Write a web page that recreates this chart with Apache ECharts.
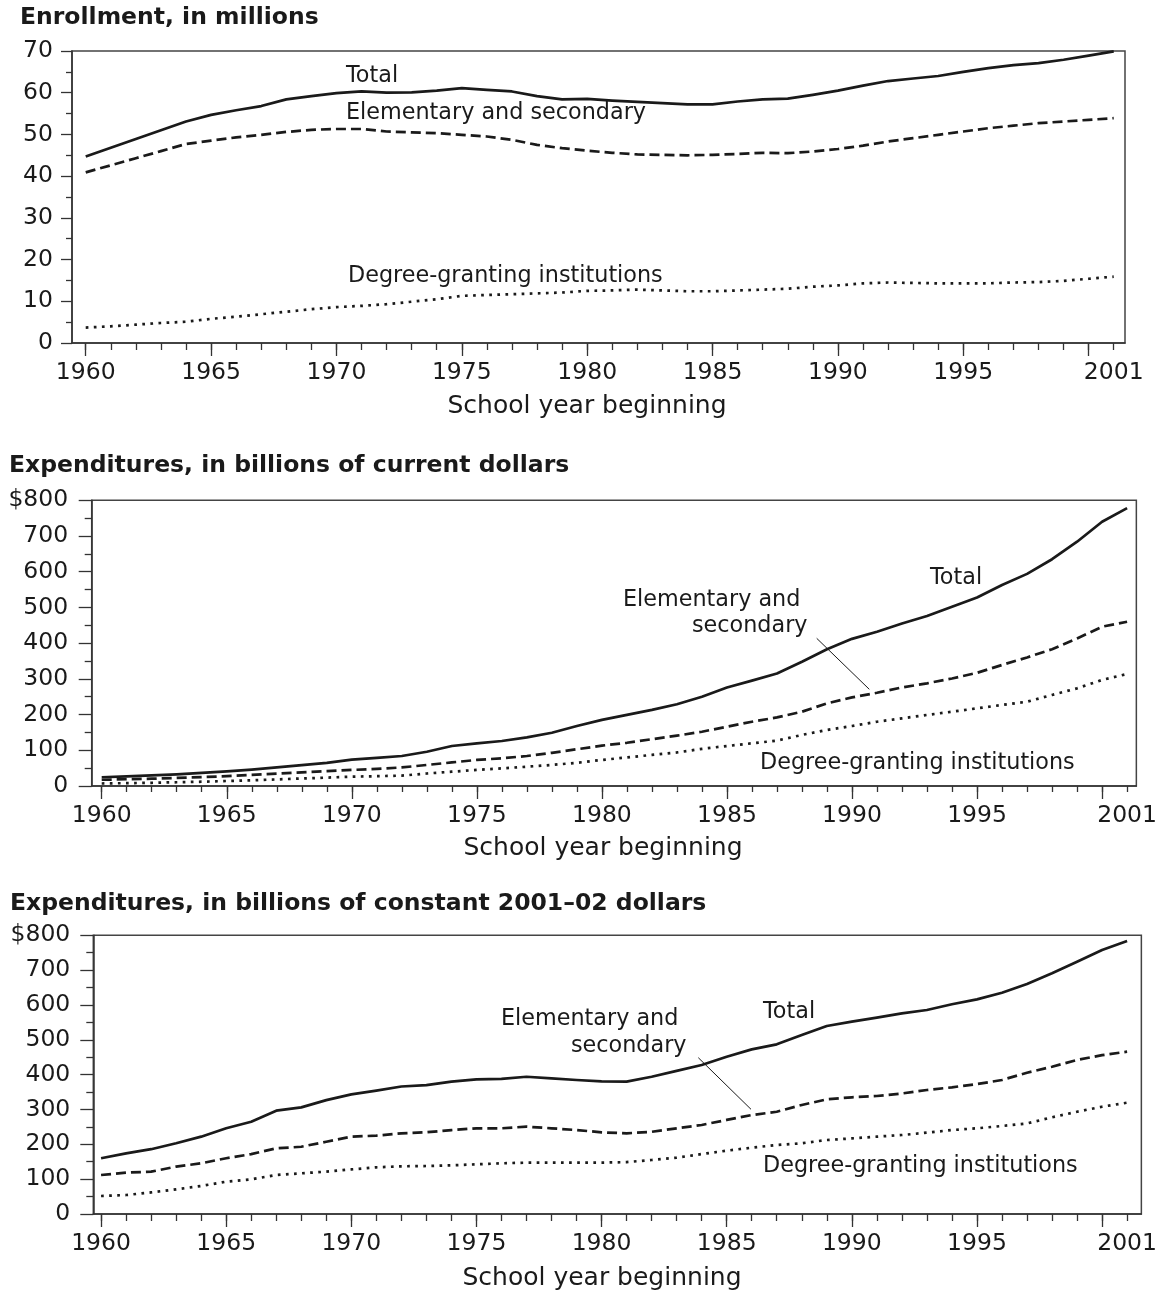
<!DOCTYPE html>
<html>
<head>
<meta charset="utf-8">
<script src="https://cdn.jsdelivr.net/npm/echarts@6/dist/echarts.min.js"></script>
<style>
html,body{margin:0;padding:0;background:#fff;}
#chart{width:1160px;height:1291px;}
</style>
</head>
<body>
<div id="chart"></div>
<script>
// ---------- DATA ----------
const years = [1960,1961,1962,1963,1964,1965,1966,1967,1968,1969,
               1970,1971,1972,1973,1974,1975,1976,1977,1978,1979,
               1980,1981,1982,1983,1984,1985,1986,1987,1988,1989,
               1990,1991,1992,1993,1994,1995,1996,1997,1998,1999,
               2000,2001];
const majorTickYears = [1960,1965,1970,1975,1980,1985,1990,1995,2000];
const xLabelYears = [1960,1965,1970,1975,1980,1985,1990,1995,2001];

// Enrollment, millions
const enrollTotal = [44.7,46.8,48.9,51.0,53.1,54.7,55.8,56.8,58.4,59.2,
                     59.9,60.3,60.0,60.1,60.5,61.1,60.7,60.3,59.2,58.4,
                     58.5,58.1,57.8,57.5,57.2,57.2,57.9,58.4,58.6,59.5,
                     60.5,61.7,62.8,63.4,64.0,65.0,65.9,66.6,67.1,67.9,
                     68.9,69.9];
const enrollElemSec = [40.9,42.6,44.3,46.0,47.7,48.5,49.3,49.9,50.6,51.1,
                       51.3,51.3,50.7,50.5,50.3,49.9,49.5,48.7,47.5,46.7,
                       46.1,45.6,45.2,45.1,45.0,45.1,45.3,45.6,45.5,45.9,
                       46.5,47.3,48.3,49.1,49.9,50.7,51.5,52.1,52.7,53.1,
                       53.5,53.9];
const enrollDegree = [3.7,4.0,4.4,4.8,5.1,5.8,6.3,6.9,7.5,8.1,
                      8.6,8.9,9.3,9.9,10.5,11.3,11.5,11.7,11.9,12.1,
                      12.5,12.6,12.8,12.6,12.4,12.4,12.6,12.8,13.0,13.5,
                      13.8,14.3,14.5,14.4,14.3,14.3,14.3,14.5,14.6,14.9,
                      15.4,15.9];

// Expenditures, billions of current dollars
const curTotal = [24.5,27,29.5,32.5,36.5,41,46,52,58.5,65,
                  74,79,84,96,112,119.5,126,136,149,168,
                  185,199,213,229,250,276,295,315,348,383,
                  412,432,455,476,502,528,563,594,635,684,
                  740,778];
const curElemSec = [17.5,19,20.5,22.5,25,27.5,31,34.5,38,41.5,
                    45,48,52,59,66,73,77.5,84,93,103,
                    113,121,131,141,152,166,180,192,208,231.5,
                    248,261,276,287.5,301,317,339,360,383,413,
                    446,460];
const curDegree = [7,8,9,10.5,12,14,16,18.5,21,23.5,
                   26,27.5,29,35,40,45,49.5,54,59,65,
                   73,80,87,94,104,112,119.5,127,143,157,
                   168,180,189.5,199,208,217.5,227,236,255,273.5,
                   297,313.6];

// Expenditures, billions of constant 2001-02 dollars
const constTotal = [159.9,174,186,203,222,246,265,296.6,306,327,
                    343.5,354,366,370,380,386.5,388,394,389.5,384.6,
                    380.8,380,394,411,427.7,451.5,472.6,487,513.8,539.6,
                    552,563.5,576,585.5,602,616,635,660,691,724,
                    758,783.6];
const constElemSec = [112,118.7,121.5,136,145.5,160,172,188.5,193,207.5,
                      222,225,231.6,234.5,241,246,246,250.7,246,241,
                      234.5,231.6,236,246,255.5,270,284,293.6,313,329,
                      335,338.7,346,356,363.6,373,384.6,405.6,422.8,442,
                      456,466];
const constDegree = [51.7,54.5,62,70.8,80.4,92.8,99.5,112,116.8,121.6,
                     128,134,136.8,137.8,139.7,142.6,145.5,147.4,147.4,147.4,
                     147.4,149,155,161.7,172,181.8,190.4,198,203,212.4,
                     217,222,226.7,233.4,241,246,252.6,260,277.5,293.6,
                     308,319.5];

// ---------- CHART ----------
const FONT = 'DejaVu Sans';
const INK = '#1a1a1a';
const AXC = '#333';
const TICKFS = 23.5;

const grids = [
  {left:72,   top:51,    width:1053,   height:292,   xmin:1959.453, xmax:2001.45, ymax:70,  yint:10,  ymajor:11, yminor:6, ylabM:19, xmajor:13, xminor:7},
  {left:91.7, top:500.3, width:1048.3, height:285.7, xmin:1959.60,  xmax:2001.37, ymax:800, yint:100, ymajor:13, yminor:7, ylabM:23.5, xmajor:13, xminor:6},
  {left:93.3, top:935.3, width:1050,   height:278.7, xmin:1959.69,  xmax:2001.57, ymax:800, yint:100, ymajor:13, yminor:7, ylabM:23, xmajor:13, xminor:7}
];

const gridOpts = [], xAxes = [], yAxes = [], series = [];
const panelData = [
  [enrollTotal, enrollElemSec, enrollDegree],
  [curTotal, curElemSec, curDegree],
  [constTotal, constElemSec, constDegree]
];
const styles = [
  {type:'solid', width:2.7},
  {type:[10,5], width:2.7},
  {type:[2.7,5.4], width:2.7}
];
const names = ['Total','Elementary and secondary','Degree-granting institutions'];

grids.forEach((g, gi) => {
  gridOpts.push({left:g.left, top:g.top, width:g.width, height:g.height,
                 show:true, borderColor:'#444', borderWidth:1.5, backgroundColor:'transparent'});
  xAxes.push({
    type:'value', gridIndex:gi, min:g.xmin, max:g.xmax, position:'bottom',
    axisLine:{show:true, onZero:false, lineStyle:{color:AXC, width:1.5}},
    axisTick:{show:true, length:g.xmajor, customValues:majorTickYears, lineStyle:{color:AXC, width:1.3}},
    axisLabel:{show:true, customValues:xLabelYears, margin:18, fontSize:TICKFS, fontFamily:FONT, color:INK,
      formatter: v => String(Math.round(v))},
    splitLine:{show:false}
  });
  xAxes.push({
    type:'value', gridIndex:gi, min:g.xmin, max:g.xmax, position:'bottom',
    axisLine:{show:false, onZero:false},
    axisTick:{show:true, length:g.xminor, customValues:years, lineStyle:{color:AXC, width:1.3}},
    axisLabel:{show:false},
    splitLine:{show:false}
  });
  yAxes.push({
    type:'value', gridIndex:gi, min:0, max:g.ymax, interval:g.yint,
    axisLine:{show:true, lineStyle:{color:AXC, width:1.5}},
    axisTick:{show:true, length:g.ymajor, lineStyle:{color:AXC, width:1.3}},
    minorTick:{show:true, splitNumber:2, length:g.yminor, lineStyle:{color:AXC, width:1.3}},
    axisLabel:{margin:g.ylabM, fontSize:TICKFS, fontFamily:FONT, color:INK,
      formatter: v => (gi > 0 && v === g.ymax) ? '$' + v : String(v)},
    splitLine:{show:false}
  });
  panelData[gi].forEach((arr, si) => {
    series.push({
      type:'line', name:names[si], xAxisIndex:gi*2, yAxisIndex:gi,
      data: years.map((y, i) => [y, arr[i]]),
      showSymbol:false, symbol:'none', silent:true, animation:false,
      lineStyle:{color:INK, width:styles[si].width, type:styles[si].type, cap:'butt', join:'round'}
    });
  });
});

function txt(x, y, text) {
  return {type:'text', x:x, y:y, silent:true,
    style:{text:text, fill:INK, font:'22.3px "DejaVu Sans"', textAlign:'left', textVerticalAlign:'middle'}};
}
function boldTitle(x, y, text) {
  return {type:'text', x:x, y:y, silent:true,
    style:{text:text, fill:INK, font:'bold 23.5px "DejaVu Sans"', textAlign:'left', textVerticalAlign:'middle'}};
}
function axisName(x, y) {
  return {type:'text', x:x, y:y, silent:true,
    style:{text:'School year beginning', fill:INK, font:'25px "DejaVu Sans"', textAlign:'center', textVerticalAlign:'middle'}};
}
function leader(x1, y1, x2, y2) {
  return {type:'line', silent:true, shape:{x1:x1, y1:y1, x2:x2, y2:y2}, style:{stroke:INK, lineWidth:1}};
}

const graphics = [
  boldTitle(20, 18, 'Enrollment, in millions'),
  boldTitle(9, 466, 'Expenditures, in billions of current dollars'),
  boldTitle(10, 904, 'Expenditures, in billions of constant 2001\u201302 dollars'),
  axisName(587, 406),
  axisName(603, 848),
  axisName(602, 1278),
  // panel 1 annotations
  txt(346, 76, 'Total'),
  txt(346, 113, 'Elementary and secondary'),
  txt(348, 276, 'Degree-granting institutions'),
  // panel 2 annotations
  txt(930, 578, 'Total'),
  txt(623, 600, 'Elementary and'),
  txt(692, 626, 'secondary'),
  leader(816.7, 638.3, 869.3, 689.3),
  txt(760, 763, 'Degree-granting institutions'),
  // panel 3 annotations
  txt(763, 1012, 'Total'),
  txt(501, 1019, 'Elementary and'),
  txt(571, 1046, 'secondary'),
  leader(698.3, 1057.7, 751, 1109.3),
  txt(763, 1166, 'Degree-granting institutions')
];

const chart = echarts.init(document.getElementById('chart'), null, {renderer:'canvas'});
chart.setOption({
  animation:false,
  backgroundColor:'#fff',
  textStyle:{fontFamily:FONT},
  grid:gridOpts,
  xAxis:xAxes,
  yAxis:yAxes,
  series:series,
  graphic:graphics
});
</script>
</body>
</html>
